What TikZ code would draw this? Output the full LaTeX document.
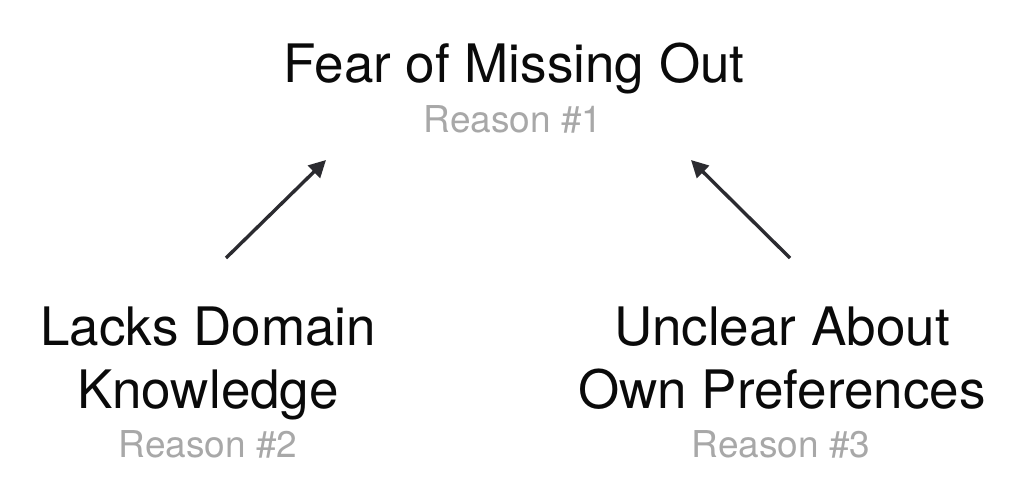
\documentclass[tikz,border=0pt]{standalone}
\usepackage{fontspec}
\setmainfont{TeX Gyre Heros}
\usetikzlibrary{arrows.meta}
\definecolor{maintext}{HTML}{0A0A0A}
\definecolor{subtext}{HTML}{A8A8A8}
\definecolor{arrowcol}{HTML}{2B2B30}
\tikzset{
  title/.style={font=\fontsize{53}{60}\selectfont, text=maintext, inner sep=0pt, anchor=base},
  reason/.style={font=\fontsize{37}{42}\selectfont, text=subtext, inner sep=0pt, anchor=base},
  link/.style={draw=arrowcol, line width=3.4pt, -{Triangle[length=17pt,width=17pt]}}
}
\begin{document}
\begin{tikzpicture}[x=1pt,y=-1pt]
\useasboundingbox (0,0) rectangle (1032,503);
\fill[white] (0,0) rectangle (1032,503);
% top
\node[title] (fomo) at (514,82) {Fear of Missing Out};
\node[reason] (r1) at (513,132) {Reason \#1};
% left
\node[title] (lack1) at (208,345) {Lacks Domain};
\node[title] (lack2) at (208,408) {Knowledge};
\node[reason] (r2) at (208,457) {Reason \#2};
% right
\node[title] (unc1) at (782,345) {Unclear About};
\node[title] (unc2) at (782,408) {Own Preferences};
\node[reason] (r3) at (781,457) {Reason \#3};
% arrows
\coordinate (s2) at (226,258);
\coordinate (t2) at (326,160);
\coordinate (s3) at (790,258);
\coordinate (t3) at (691,160);
\draw[link] (s2) -- (t2);
\draw[link] (s3) -- (t3);
\end{tikzpicture}
\end{document}
